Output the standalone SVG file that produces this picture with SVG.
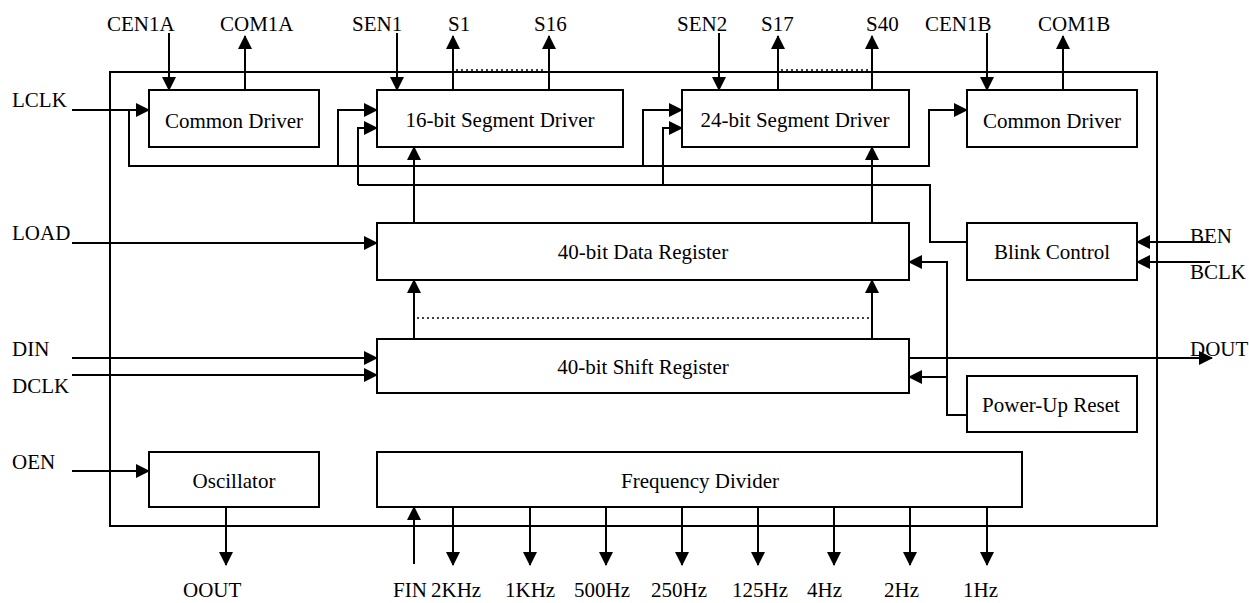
<svg xmlns="http://www.w3.org/2000/svg" width="1249" height="603" viewBox="0 0 1249 603">
<style>
.box{fill:#fff;stroke:#000;stroke-width:2}
.frame{fill:none;stroke:#000;stroke-width:2}
.w{fill:none;stroke:#000;stroke-width:2}
.a{marker-end:url(#arr)}
.dot{fill:none;stroke:#000;stroke-width:1.5;stroke-dasharray:2 3}
text{font-family:"Liberation Serif","Times New Roman",serif;font-size:21px;fill:#000}
.c{text-anchor:middle}
</style>
<defs>
<marker id="arr" viewBox="0 0 14 14" refX="13" refY="7" markerWidth="14" markerHeight="14" markerUnits="userSpaceOnUse" orient="auto">
<path d="M0,0 L14,7 L0,14 z" fill="#000"/>
</marker>
</defs>
<rect class="frame" x="110" y="72" width="1047" height="454"/>
<g id="connectors">
<path class="w a" d="M169,33 V90"/>
<path class="w a" d="M245,90 V36"/>
<path class="w a" d="M397,33 V90"/>
<path class="w a" d="M453,90 V36"/>
<path class="w a" d="M549,90 V36"/>
<path class="w a" d="M719,33 V90"/>
<path class="w a" d="M778,90 V36"/>
<path class="w a" d="M872,90 V36"/>
<path class="w a" d="M987,33 V90"/>
<path class="w a" d="M1063,90 V36"/>
<path class="dot" d="M456,70 H546"/>
<path class="dot" d="M781,70 H869"/>
<path class="w a" d="M72,110 H149"/>
<path class="w a" d="M129,110 V166 H929 V110 H967"/>
<path class="w a" d="M338,166 V110 H377"/>
<path class="w a" d="M643,166 V110 H682"/>
<path class="w" d="M967,242 H930 V185 H358"/>
<path class="w a" d="M358,185 V128 H377"/>
<path class="w a" d="M663,185 V128 H682"/>
<path class="w a" d="M414,223 V147"/>
<path class="w a" d="M872,223 V147"/>
<path class="w a" d="M414,339 V280"/>
<path class="w a" d="M872,339 V280"/>
<path class="dot" d="M417,318 H870"/>
<path class="w a" d="M72,243 H377"/>
<path class="w a" d="M72,358 H377"/>
<path class="w a" d="M72,375 H377"/>
<path class="w a" d="M72,471 H149"/>
<path class="w a" d="M1210,242 H1137"/>
<path class="w a" d="M1210,262 H1137"/>
<path class="w a" d="M967,415 H947 V262 H909"/>
<path class="w a" d="M947,377 H909"/>
<path class="w a" d="M909,358 H1212"/>
<path class="w a" d="M226,507 V565"/>
<path class="w a" d="M414,564 V507"/>
<path class="w a" d="M453,507 V565"/>
<path class="w a" d="M530,507 V565"/>
<path class="w a" d="M606,507 V565"/>
<path class="w a" d="M682,507 V565"/>
<path class="w a" d="M758,507 V565"/>
<path class="w a" d="M834,507 V565"/>
<path class="w a" d="M910,507 V565"/>
<path class="w a" d="M987,507 V565"/>
</g>
<g id="common-driver-a"><rect class="box" x="149" y="90" width="170" height="57"/><text class="c" x="234" y="128">Common Driver</text></g>
<g id="segment-driver-16"><rect class="box" x="377" y="90" width="246" height="57"/><text class="c" x="500" y="127">16-bit Segment Driver</text></g>
<g id="segment-driver-24"><rect class="box" x="682" y="90" width="227" height="57"/><text class="c" x="795" y="127">24-bit Segment Driver</text></g>
<g id="common-driver-b"><rect class="box" x="967" y="90" width="170" height="57"/><text class="c" x="1052" y="128">Common Driver</text></g>
<g id="data-register"><rect class="box" x="377" y="223" width="532" height="57"/><text class="c" x="643" y="259">40-bit Data Register</text></g>
<g id="blink-control"><rect class="box" x="967" y="223" width="170" height="57"/><text class="c" x="1052" y="259">Blink Control</text></g>
<g id="shift-register"><rect class="box" x="377" y="339" width="532" height="54"/><text class="c" x="643" y="374">40-bit Shift Register</text></g>
<g id="power-up-reset"><rect class="box" x="967" y="376" width="170" height="56"/><text class="c" x="1051" y="412">Power-Up Reset</text></g>
<g id="oscillator"><rect class="box" x="149" y="452" width="170" height="55"/><text class="c" x="234" y="488">Oscillator</text></g>
<g id="frequency-divider"><rect class="box" x="377" y="452" width="645" height="55"/><text class="c" x="700" y="488">Frequency Divider</text></g>
<g id="labels">
<text x="107" y="31">CEN1A</text>
<text x="220" y="31">COM1A</text>
<text x="352" y="31">SEN1</text>
<text x="448" y="31">S1</text>
<text x="534" y="31">S16</text>
<text x="677" y="31">SEN2</text>
<text x="761" y="31">S17</text>
<text x="866" y="31">S40</text>
<text x="925" y="31">CEN1B</text>
<text x="1038" y="31">COM1B</text>
<text x="12" y="107">LCLK</text>
<text x="12" y="240">LOAD</text>
<text x="12" y="356">DIN</text>
<text x="12" y="393">DCLK</text>
<text x="12" y="469">OEN</text>
<text x="1190" y="243">BEN</text>
<text x="1190" y="279">BCLK</text>
<text x="1190" y="356">DOUT</text>
<text x="183" y="597">OOUT</text>
<text x="393" y="597">FIN</text>
<text x="431" y="597">2KHz</text>
<text x="505" y="597">1KHz</text>
<text x="574" y="597">500Hz</text>
<text x="651" y="597">250Hz</text>
<text x="732" y="597">125Hz</text>
<text x="807" y="597">4Hz</text>
<text x="884" y="597">2Hz</text>
<text x="963" y="597">1Hz</text>
</g>
</svg>
